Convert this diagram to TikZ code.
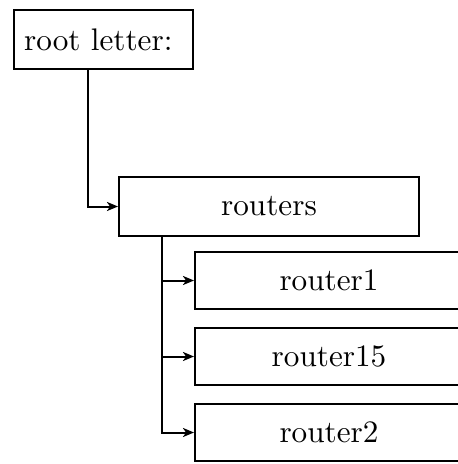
\documentclass[tikz,border=0pt]{standalone}
\usetikzlibrary{arrows.meta}
\newcommand{\boxtext}[1]{\scalebox{3.12}{#1}}
\begin{document}
\begin{tikzpicture}[x=1pt,y=-1pt,
  box/.style={draw, line width=2pt, inner sep=0pt, anchor=north west},
  link/.style={line width=2pt, -{Stealth[length=11pt,width=9pt,inset=3pt]}}]
  \useasboundingbox (0,0) rectangle (458,464);
  \node[box, minimum width=179pt, minimum height=59pt] (root) at (13,9) {\boxtext{root letter:\ }};
  \node[box, minimum width=300pt, minimum height=59pt] (routers) at (118,176) {\boxtext{routers}};
  \node[box, minimum width=268pt, minimum height=57pt] (r1) at (194,251) {\boxtext{router1}};
  \node[box, minimum width=268pt, minimum height=57pt] (r15) at (194,327) {\boxtext{router15}};
  \node[box, minimum width=268pt, minimum height=57pt] (r2) at (194,403) {\boxtext{router2}};
  % connectors
  \coordinate (rootdrop) at (88,0);
  \coordinate (routersdrop) at (162,0);
  \draw[link] (root.south -| rootdrop) |- (routers.west);
  \draw[link] (routers.south -| routersdrop) |- (r1.west);
  \draw[link] (routers.south -| routersdrop) |- (r15.west);
  \draw[link] (routers.south -| routersdrop) |- (r2.west);
\end{tikzpicture}
\end{document}
